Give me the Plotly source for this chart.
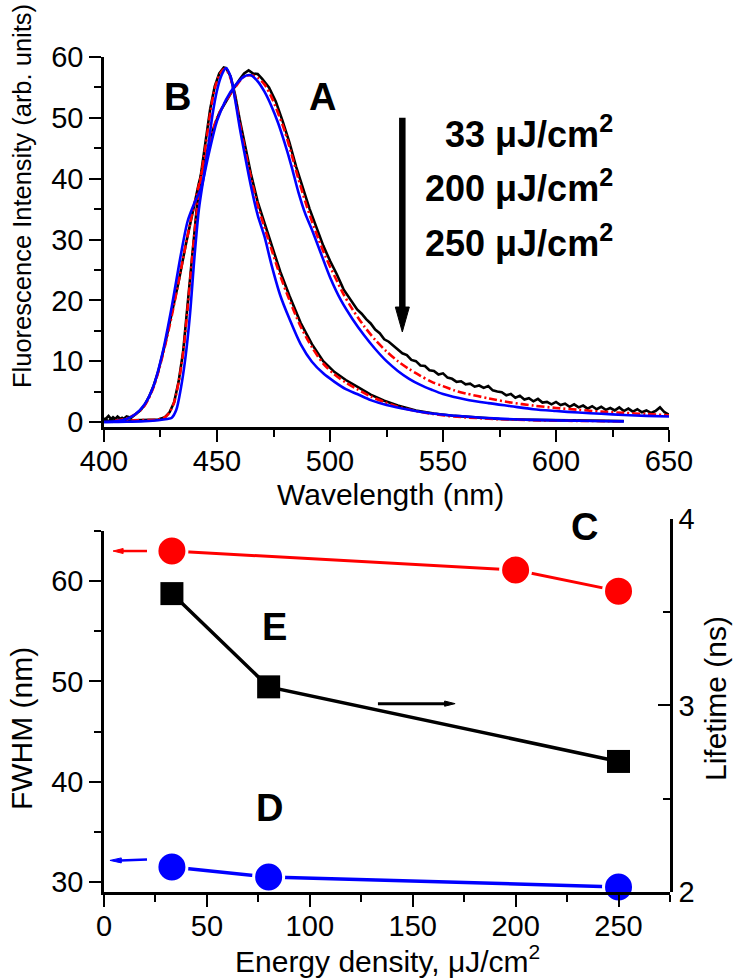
import plotly.graph_objects as go

# ---------------- Top panel: fluorescence spectra ----------------
# Spectrum A (broad), 33 uJ/cm2 (black, noisy)
wl_A_33 = [400,402,404,406,408,410,412,414,416,418,420,422,424,427,430,433,436,439,442,445,448,451,454,457,460,462,464,466,468,470,473,476,479,482,485,488,491,494,497,500,503,506,509,512,514,516,518,520,522,524,526,528,530,532,534,536,538,540,542,544,546,548,550,552,554,556,558,560,562,564,566,568,570,572,574,576,578,580,582,584,586,588,590,592,594,596,598,600,602,604,606,608,610,612,614,616,618,620,622,624,626,628,630,632,634,636,638,640,642,644,646,648,650]
int_A_33 = [0.2,1.0,0.1,0.9,0.3,0.9,0.7,1.3,1.9,2.8,4.2,6.0,8.3,12.8,17.7,23.0,28.8,34.3,39.3,43.5,47.8,50.8,52.8,54.6,56.3,57.3,57.8,57.3,57.2,56.4,55.0,52.7,49.5,46.0,42.0,38.5,35.0,32.0,29.0,26.5,24.3,21.8,20.2,18.5,17.8,16.9,16.2,15.2,14.6,13.6,13.2,12.6,12.0,11.3,11.0,10.2,10.0,9.3,9.2,8.5,8.4,7.8,8.0,7.3,7.1,6.6,6.7,6.2,6.3,5.8,6.0,5.6,5.9,5.2,5.0,4.9,4.4,4.6,4.0,4.3,3.7,3.9,3.4,3.8,3.2,3.3,2.9,3.3,2.8,3.0,2.5,2.9,2.4,2.7,2.2,2.6,2.1,2.5,2.0,2.3,1.9,2.4,1.8,2.2,1.7,2.1,1.6,1.9,1.5,1.8,2.4,1.6,1.2]

# Spectrum A, 200 uJ/cm2 (red dash-dot)
wl_A_200 = [405,410,414,418,422,426,430,434,438,442,446,450,454,458,462,465,468,471,474,477,480,483,486,489,492,495,498,502,506,510,515,520,525,530,535,540,545,550,555,560,570,580,590,600,610,620,630,640,650]
int_A_200 = [0.2,0.6,1.3,2.7,5.8,11.0,17.5,25.0,32.5,39.0,45.0,50.0,52.8,55.0,56.8,57.0,56.6,55.5,53.5,50.8,47.8,44.0,40.0,36.3,33.0,30.0,27.2,24.0,21.0,18.5,15.8,13.5,11.6,10.0,8.7,7.6,6.6,5.9,5.2,4.7,3.9,3.2,2.7,2.3,2.0,1.7,1.5,1.3,1.1]

# Spectrum A, 250 uJ/cm2 (blue)
wl_A_250 = [400,405,410,414,418,422,426,430,434,437,440,443,446,450,454,458,462,465,468,471,474,477,480,483,486,489,492,496,500,505,510,515,520,525,530,535,540,545,550,560,570,580,590,600,610,620,630,640,650]
int_A_250 = [0.0,0.1,0.5,1.3,2.9,6.0,11.5,19.0,27.5,33.0,36.0,38.5,43.5,49.5,53.0,55.3,56.8,57.0,56.0,54.3,52.0,49.2,45.8,42.0,37.8,34.3,31.6,27.7,23.8,19.9,16.9,14.3,12.0,10.0,8.4,7.1,6.1,5.3,4.6,3.7,3.1,2.6,2.1,1.8,1.55,1.35,1.15,1.0,0.9]

# Spectrum B (narrow), 33 uJ/cm2 (black)
wl_B_33 = [400,402,404,406,408,410,413,416,420,424,427,429,431,433,435,437,439,441,443,445,447,449,451,453,454,456,458,460,462,465,468,471,474,478,482,487,492,497,502,507,512,518,524,530,538,546,555,565,575,590,605,630]
int_B_33 = [0.6,0.1,0.8,0.2,0.7,0.2,0.3,0.3,0.3,0.4,0.8,1.6,3.2,6.6,11.5,19.0,27.5,35.0,41.0,46.0,51.5,55.2,57.3,58.3,58.2,56.8,53.8,49.8,46.0,40.8,36.2,32.8,29.3,24.7,20.8,16.3,12.8,10.0,8.2,6.9,5.8,4.5,3.5,2.7,1.9,1.4,1.0,0.7,0.5,0.35,0.25,0.15]

# Spectrum B, 200 uJ/cm2 (red dash-dot)
wl_B_200 = [405,415,424,427,429,431,433,435,437,439,441,443,445,447,449,451,453,454,456,458,460,462,465,468,471,474,478,482,487,492,497,502,507,512,518,524,530,538,546,555,565,575,590,605,630]
int_B_200 = [0.2,0.3,0.4,0.8,1.6,3.2,6.5,11.3,18.7,27.0,34.5,40.5,45.5,50.8,54.8,57.0,58.0,58.0,56.5,53.3,49.3,45.5,40.2,35.6,32.0,28.5,24.0,20.1,15.7,12.3,9.6,7.8,6.5,5.4,4.2,3.3,2.5,1.8,1.3,0.9,0.65,0.45,0.3,0.2,0.12]

# Spectrum B, 250 uJ/cm2 (blue)
wl_B_250 = [400,410,418,424,428,430,432,434,436,438,440,442,444,446,448,450,452,454,456,458,460,462,465,468,471,474,478,482,487,492,497,502,507,512,518,525,535,545,560,575,590,610,630]
int_B_250 = [0.0,0.05,0.15,0.3,0.5,0.7,2.0,5.5,10.5,17.5,27.0,35.0,40.0,45.0,50.5,54.5,57.0,58.2,56.8,53.0,48.5,44.5,38.8,34.0,30.5,26.0,20.8,17.0,12.8,9.9,8.0,6.6,5.4,4.6,3.6,2.8,2.0,1.4,0.9,0.55,0.35,0.2,0.1]

# ---------------- Bottom panel ----------------
energy_A = [33, 200, 250]
fwhm_A = [63.0, 61.1, 59.0]
energy_B = [33, 80, 250]
fwhm_B = [31.5, 30.5, 29.5]
energy_tau = [33, 80, 250]
lifetime = [3.60, 3.10, 2.70]

fluence_labels = ["33 μJ/cm<sup>2</sup>", "200 μJ/cm<sup>2</sup>", "250 μJ/cm<sup>2</sup>"]

FONT = "Liberation Sans, Arial, sans-serif"
BLACK, RED, BLUE = "#000000", "#ff0000", "#0000ff"
DASHDOT = "8px,3px,2px,3px"

fig = go.Figure()

def spec(x, y, color, dash="solid", shape="spline", width=2.6):
    fig.add_trace(go.Scatter(x=x, y=y, mode="lines", xaxis="x", yaxis="y",
                             line=dict(color=color, width=width, dash=dash, shape=shape,
                                       smoothing=0.8 if shape == "spline" else None),
                             showlegend=False, hoverinfo="skip"))

spec(wl_B_33, int_B_33, BLACK, shape="linear")
spec(wl_A_33, int_A_33, BLACK, shape="linear")
spec(wl_B_200, int_B_200, RED, dash=DASHDOT)
spec(wl_A_200, int_A_200, RED, dash=DASHDOT)
spec(wl_B_250, int_B_250, BLUE)
spec(wl_A_250, int_A_250, BLUE)

# bottom: FWHM (left axis)
fig.add_trace(go.Scatter(x=energy_A, y=fwhm_A, mode="lines+markers", xaxis="x2", yaxis="y2",
                         line=dict(color=RED, width=3),
                         marker=dict(symbol="circle", size=30, color=RED, line=dict(color="white", width=3)),
                         showlegend=False, cliponaxis=False))
fig.add_trace(go.Scatter(x=energy_B, y=fwhm_B, mode="lines+markers", xaxis="x2", yaxis="y2",
                         line=dict(color=BLUE, width=3.5),
                         marker=dict(symbol="circle", size=30, color=BLUE, line=dict(color="white", width=3)),
                         showlegend=False, cliponaxis=False))
# lifetime (right axis)
fig.add_trace(go.Scatter(x=energy_tau, y=lifetime, mode="lines+markers", xaxis="x3", yaxis="y3",
                         line=dict(color=BLACK, width=3.5),
                         marker=dict(symbol="square", size=23, color=BLACK),
                         showlegend=False, cliponaxis=False))

axis_common = dict(showline=True, linewidth=2.5, linecolor="black",
                   ticklen=12, tickwidth=2, tickcolor="black", showgrid=False, zeroline=False,
                   automargin=False,
                   tickfont=dict(family=FONT, size=29, color="black"))
minor_out = dict(ticklen=7, tickwidth=2, ticks="outside", tickcolor="black", showgrid=False)
minor_in = dict(ticklen=7, tickwidth=2, ticks="inside", tickcolor="black", showgrid=False)

fig.update_layout(
    width=736, height=980, autosize=False,
    margin=dict(l=0, r=0, t=0, b=0, pad=0, autoexpand=False),
    paper_bgcolor="white", plot_bgcolor="rgba(0,0,0,0)",
    showlegend=False,
    xaxis=dict(domain=[0.1413, 0.9090], range=[400, 650], anchor="y", dtick=50, ticks="outside",
               ticklabelstandoff=-6,
               minor=dict(dtick=25, **minor_out), **axis_common),
    yaxis=dict(domain=[0.5643, 0.9418], range=[-0.82, 60], anchor="x", dtick=10, ticks="outside",
               minor=dict(dtick=5, **minor_out), **axis_common),
    xaxis2=dict(domain=[0.1413, 0.9103], range=[0, 275], anchor="y2", dtick=50, ticks="outside",
                ticklabelstandoff=-6,
                minor=dict(dtick=25, **minor_out), **axis_common),
    yaxis2=dict(domain=[0.0898, 0.4582], range=[29, 65], anchor="x2", dtick=10, tick0=0,
                ticks="outside", minor=dict(dtick=5, **minor_out), **axis_common),
    xaxis3=dict(domain=[0.1413, 0.9103], range=[0, 275], anchor="y3", visible=False,
                automargin=False),
    yaxis3=dict(domain=[0.0898, 0.4704], range=[2, 4], anchor="x3", side="right", dtick=1,
                ticks="inside", minor=dict(dtick=0.5, **minor_in), **axis_common),
)

def ann(text, x, y, size, bold=False, angle=0, xanchor="center"):
    fig.add_annotation(text=f"<b>{text}</b>" if bold else text, x=x, y=y, xref="paper", yref="paper",
                       showarrow=False, textangle=angle, xanchor=xanchor, yanchor="middle",
                       font=dict(family=FONT, size=size, color="black"))

# axis titles
ann("Fluorescence Intensity (arb. units)", 0.0299, 0.800, 25.5, angle=-90)
ann("Wavelength (nm)", 0.530, 0.4949, 30)
ann("FWHM (nm)", 0.0285, 0.2571, 30, angle=-90)
ann("Lifetime (ns)", 0.9715, 0.2867, 30, angle=-90)
ann("Energy density, μJ/cm<sup>2</sup>", 0.526, 0.0215, 30)

# panel letters
ann("B", 0.2405, 0.901, 38, bold=True)
ann("A", 0.4375, 0.901, 38, bold=True)
ann("C", 0.7948, 0.4622, 38, bold=True)
ann("E", 0.3723, 0.3602, 38, bold=True)
ann("D", 0.3655, 0.1755, 38, bold=True)

# fluence labels
for lab, yy in zip(fluence_labels, [0.8653, 0.8102, 0.7540]):
    ann(lab, 0.8356, yy, 36, bold=True, xanchor="right")

# big downward arrow (top panel)
fig.add_shape(type="line", xref="x", yref="y", x0=532, y0=50, x1=532, y1=18.6,
              line=dict(color="black", width=6.5))
fig.add_shape(type="path", xref="x", yref="y", path="M 528.9,18.9 L 535.1,18.9 L 532,14.8 Z",
              fillcolor="black", line=dict(color="black", width=1))

# small arrows (bottom panel)
fig.add_shape(type="line", xref="x2", yref="y2", x0=20.9, y0=63.0, x1=8.8, y1=63.0,
              line=dict(color=RED, width=2.5))
fig.add_shape(type="path", xref="x2", yref="y2", path="M 9.3,63.25 L 9.3,62.75 L 4.4,63.0 Z",
              fillcolor=RED, line=dict(color=RED, width=1))
fig.add_shape(type="line", xref="x2", yref="y2", x0=20.9, y0=32.25, x1=7.9, y1=32.15,
              line=dict(color=BLUE, width=2.5))
fig.add_shape(type="path", xref="x2", yref="y2", path="M 8.4,32.4 L 8.4,31.9 L 2.9,32.15 Z",
              fillcolor=BLUE, line=dict(color=BLUE, width=1))
fig.add_shape(type="line", xref="x3", yref="y3", x0=133.1, y0=3.01, x1=166.0, y1=3.01,
              line=dict(color=BLACK, width=3))
fig.add_shape(type="path", xref="x3", yref="y3", path="M 165.5,3.024 L 165.5,2.996 L 170.6,3.01 Z",
              fillcolor=BLACK, line=dict(color=BLACK, width=1))

fig.write_html("out.html", config={"displayModeBar": False},
               post_script="document.body.style.margin='0';document.body.style.overflow='hidden';")
